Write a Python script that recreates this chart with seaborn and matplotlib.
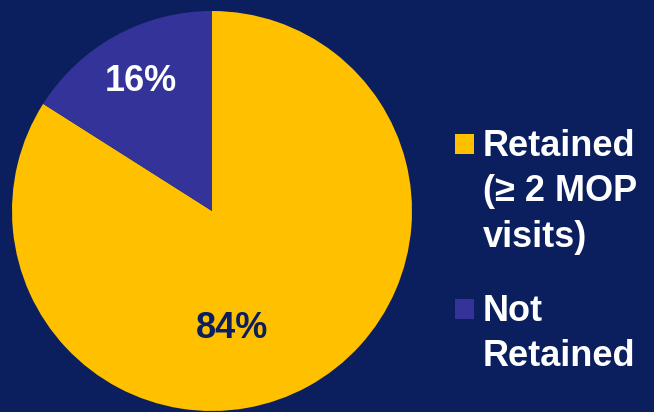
#!/usr/bin/env python3
"""
Pie chart: share of clients retained (>= 2 MOP visits) vs not retained.
"""

import matplotlib
matplotlib.use('Agg')
import matplotlib.pyplot as plt
from matplotlib.patches import Rectangle
import seaborn as sns

# data
categories = ['Retained\n(≥ 2 MOP\nvisits)', 'Not\nRetained']
shares = [84, 16]
colors = ['#FFC000', '#333399']
pct_colors = ['#0B1F5E', '#FFFFFF']

BG = '#0B1F5E'
W, H = 654, 412


def main():
    sns.set_theme(style='white')
    plt.rcParams['font.family'] = ['Liberation Sans', 'DejaVu Sans']

    fig = plt.figure(figsize=(W / 100, H / 100), dpi=100, facecolor=BG)
    # pie axes: circle centre ~(212, 211) px, radius ~200 px
    ax = fig.add_axes([12 / W, (H - 411) / H, 400 / W, 400 / H])
    ax.set_facecolor(BG)

    wedges, _, autotexts = ax.pie(
        shares, colors=colors, startangle=90, counterclock=False,
        autopct='%d%%', pctdistance=0.74, radius=1.0,
        wedgeprops=dict(linewidth=0), textprops=dict(fontsize=26, fontweight='bold'))
    for t, c in zip(autotexts, pct_colors):
        t.set_color(c)
    # the big slice's label sits lower than the slice middle
    autotexts[0].set_position((0.10, -0.585))
    ax.set_xlim(-1, 1)
    ax.set_ylim(-1, 1)
    ax.set_aspect('equal')
    ax.axis('off')

    # legend, drawn by hand so multi-line labels keep their square at the top
    tops = [129, 294]
    for lab, col, top in zip(categories, colors, tops):
        fig.patches.append(Rectangle((455 / W, (H - top - 25) / H), 19 / W, 20 / H,
                                     transform=fig.transFigure, facecolor=col,
                                     edgecolor='none'))
        fig.text(483 / W, (H - top) / H, lab, color='white', fontsize=26,
                 fontweight='bold', va='top', ha='left', linespacing=1.38)

    plt.savefig('out.png', dpi=100, facecolor=BG)
    plt.close()


if __name__ == "__main__":
    main()
